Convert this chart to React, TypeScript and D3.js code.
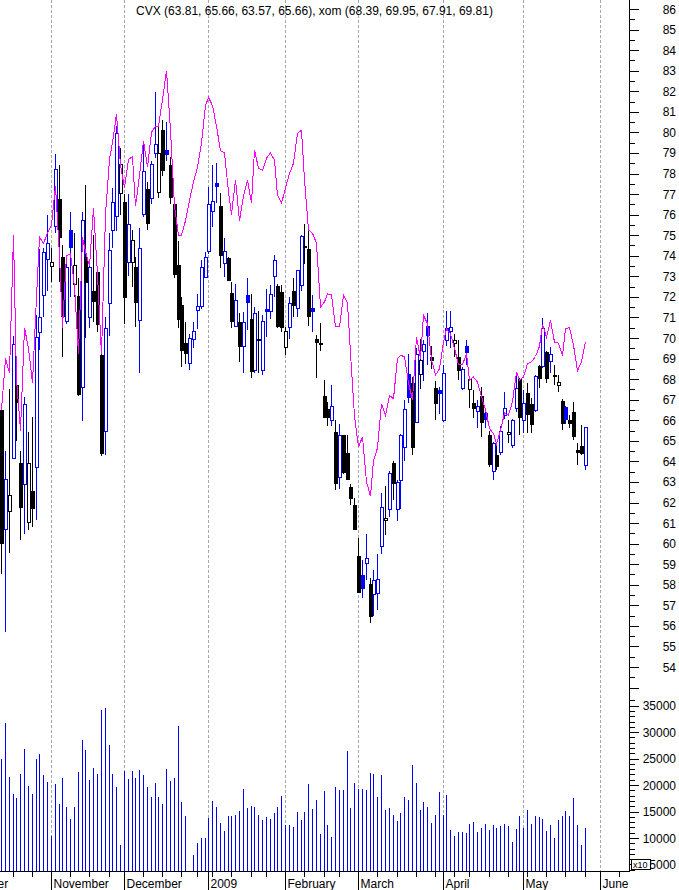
import { useEffect, useRef } from 'react';
import * as d3 from 'd3';

// trading days from Oct 14 2008 (index 0) to May 22 2009 (index 152)
const opens = [
  66.5, 60.7, 61.55, 64.15, 67.7, 63.9, 62.9, 61.05, 62.55, 63.75,
  70.25, 72.1, 73.8, 73.5, 75.45, 76.75, 73.95, 70.8, 75.25, 72.65,
  72.05, 67.65, 73.95, 71.0, 72.3, 73.2, 69.15, 65.5, 71.7, 75.25,
  75.9, 77.05, 76.6, 73.7, 73.7, 73.45, 70.9, 76.0, 77.25, 76.8,
  79.0, 77.1, 80.1, 79.15, 78.4, 76.5, 73.55, 71.6, 69.75, 68.8,
  69.95, 71.35, 71.55, 73.0, 74.2, 76.15, 77.55, 76.4, 73.65, 73.9,
  72.2, 70.6, 70.8, 69.65, 72.1, 70.9, 68.45, 69.9, 68.45, 71.4,
  71.3, 73.0, 72.55, 72.25, 69.55, 70.55, 72.3, 71.45, 72.55, 74.45,
  74.35, 71.45, 69.95, 69.75, 67.2, 66.55, 66.0, 65.45, 63.25, 65.3,
  64.4, 62.75, 61.9, 59.4, 58.45, 59.05, 58.05, 57.55, 57.6, 59.9,
  61.15, 61.7, 63.9, 61.7, 63.1, 64.7, 68.25, 67.8, 65.9, 68.25,
  69.35, 70.6, 69.1, 67.55, 67.45, 66.0, 69.9, 70.35, 69.75, 69.1,
  67.6, 69.6, 67.5, 66.85, 66.45, 67.2, 66.35, 65.3, 63.55, 64.3,
  64.47, 66.25, 65.3, 64.8, 66.58, 68.0, 66.04, 67.34, 66.79, 66.5,
  68.64, 68.6, 69.3, 68.85, 68.2, 67.68, 66.93, 66.66, 66.01, 66.41,
  64.55, 64.75, 63.81,
];
const highs = [
  66.8, 64.5, 67.5, 70.1, 69.1, 64.5, 67.15, 65.45, 66.15, 71.1,
  74.35, 74.4, 76.0, 74.4, 78.95, 78.4, 74.5, 73.85, 76.15, 75.1,
  72.9, 76.15, 77.45, 73.75, 75.0, 73.5, 69.5, 71.0, 75.1, 77.3,
  80.3, 79.25, 77.0, 77.0, 75.25, 73.95, 75.35, 79.6, 77.6, 78.6,
  81.95, 80.35, 80.6, 80.5, 78.8, 76.7, 74.7, 72.0, 70.8, 70.2,
  70.8, 72.15, 73.8, 74.2, 77.35, 78.4, 78.5, 77.05, 74.85, 73.95,
  72.7, 72.65, 71.2, 71.25, 72.9, 72.15, 71.5, 71.3, 71.1, 72.4,
  72.6, 74.05, 72.65, 72.6, 70.55, 72.0, 72.9, 73.3, 75.0, 75.55,
  75.25, 72.1, 70.15, 70.75, 67.95, 66.9, 67.7, 66.0, 65.8, 65.3,
  65.3, 62.9, 62.2, 60.25, 59.2, 60.45, 58.35, 58.7, 59.5, 62.45,
  62.8, 63.55, 64.0, 63.1, 65.35, 67.0, 69.2, 68.1, 69.5, 69.95,
  69.9, 71.2, 69.6, 67.9, 67.6, 68.7, 71.3, 71.3, 70.2, 69.9,
  68.6, 69.9, 68.0, 67.45, 67.0, 67.6, 66.6, 65.5, 64.95, 64.8,
  65.7, 67.35, 66.0, 66.05, 68.2, 68.05, 67.45, 67.8, 67.1, 68.2,
  68.7, 70.95, 69.35, 69.58, 68.68, 68.2, 67.05, 66.7, 66.25, 66.87,
  64.87, 65.77, 65.66,
];
const lows = [
  58.5, 55.7, 59.55, 64.1, 65.0, 60.2, 60.45, 60.65, 60.8, 61.15,
  69.4, 71.0, 72.3, 72.7, 75.1, 72.7, 69.1, 70.7, 72.0, 72.0,
  67.2, 65.95, 70.0, 70.5, 70.8, 70.3, 64.25, 64.3, 70.1, 74.4,
  75.2, 76.0, 70.7, 73.0, 72.5, 70.55, 68.3, 75.9, 75.25, 76.5,
  78.75, 76.8, 77.9, 78.6, 76.5, 72.9, 70.5, 68.6, 68.75, 68.45,
  69.5, 70.45, 71.4, 72.9, 74.1, 75.4, 76.55, 73.4, 72.95, 72.75,
  70.5, 70.55, 68.85, 68.3, 70.4, 68.05, 68.3, 68.3, 68.2, 70.05,
  70.9, 72.0, 70.5, 70.3, 69.15, 69.95, 71.0, 71.0, 72.3, 73.6,
  70.6, 70.3, 68.05, 69.35, 66.1, 65.7, 65.7, 62.6, 62.65, 63.4,
  63.1, 61.9, 60.7, 57.6, 57.35, 58.25, 56.15, 56.5, 56.75, 59.5,
  60.4, 61.3, 62.1, 61.1, 61.7, 64.0, 66.85, 64.3, 65.85, 67.5,
  67.9, 68.7, 68.5, 66.0, 66.3, 65.9, 69.6, 69.5, 69.1, 67.95,
  67.45, 68.7, 66.6, 66.1, 65.6, 65.2, 65.6, 63.75, 63.1, 63.6,
  64.3, 66.05, 64.87, 64.65, 66.4, 65.3, 65.4, 65.4, 65.4, 66.4,
  67.55, 68.55, 67.82, 68.3, 67.71, 67.39, 65.55, 65.8, 65.6, 65.04,
  63.82, 64.31, 63.57,
];
const closes = [
  60.05, 63.15, 62.35, 69.7, 66.85, 61.75, 66.8, 63.9, 61.7, 70.05,
  71.0, 74.2, 74.6, 73.7, 78.2, 74.9, 71.1, 73.45, 74.4, 73.55,
  67.3, 75.75, 72.75, 73.45, 71.8, 70.65, 64.4, 70.5, 74.3, 76.6,
  79.95, 78.45, 72.0, 75.55, 74.75, 71.75, 74.4, 78.1, 75.6, 78.45,
  79.45, 79.0, 78.15, 78.95, 76.85, 73.1, 70.9, 69.4, 69.25, 70.0,
  70.35, 71.55, 73.45, 73.95, 76.5, 76.65, 77.4, 74.0, 74.25, 72.85,
  70.85, 71.85, 69.65, 70.8, 71.75, 68.35, 71.2, 69.95, 70.85, 71.3,
  72.15, 73.8, 70.6, 70.55, 70.35, 71.7, 71.6, 73.3, 74.95, 74.4,
  71.1, 71.3, 69.8, 69.7, 66.2, 66.15, 66.7, 62.95, 65.3, 63.5,
  63.15, 62.2, 60.75, 57.65, 57.8, 59.3, 56.5, 58.25, 58.3, 61.8,
  61.25, 63.45, 62.95, 63.0, 65.3, 66.55, 67.15, 64.7, 69.2, 68.95,
  69.7, 70.15, 68.95, 66.8, 67.3, 68.3, 70.5, 70.55, 69.9, 68.45,
  68.5, 69.3, 68.0, 66.6, 66.68, 65.95, 66.05, 63.9, 64.9, 63.75,
  65.5, 66.58, 65.42, 66.0, 67.55, 66.14, 66.85, 66.3, 65.82, 68.15,
  68.04, 70.47, 68.04, 69.2, 68.15, 67.84, 65.88, 66.09, 65.88, 65.23,
  64.47, 64.39, 65.66,
];
const xomCloses = [
  66.5, 69.0, 68.3, 75.0, 68.0, 65.5, 70.5, 69.5, 67.8, 72.0,
  74.9, 74.6, 75.1, 75.5, 77.4, 74.0, 70.5, 74.0, 74.1, 72.5,
  69.2, 74.9, 74.2, 73.5, 76.3, 73.1, 69.2, 76.0, 78.7, 79.5,
  80.9, 78.4, 77.3, 78.7, 78.8, 76.4, 77.9, 79.6, 78.3, 80.0,
  80.3, 80.3, 81.6, 83.0, 80.1, 76.4, 75.0, 75.0, 75.7, 76.7,
  77.6, 78.3, 79.5, 81.3, 81.7, 81.3, 80.3, 79.1, 79.0, 77.1,
  76.0, 77.7, 75.7, 76.9, 77.7, 76.55, 79.15, 78.25, 78.15, 78.75,
  79.0, 78.65, 76.95, 76.55, 77.3, 78.0, 78.5, 79.95, 80.1, 77.7,
  75.25, 75.1, 74.6, 71.5, 71.75, 72.15, 72.1, 70.55, 70.55, 72.1,
  71.7, 69.25, 66.2, 64.7, 65.2, 63.0, 62.3, 64.05, 64.65, 66.8,
  66.25, 67.2, 67.05, 69.0, 69.15, 69.1, 67.8, 67.0, 70.05, 69.0,
  71.1, 70.7, 68.95, 68.2, 68.5, 69.8, 70.45, 70.2, 69.5, 68.7,
  68.7, 69.25, 67.95, 68.1, 67.85, 67.15, 66.5, 65.6, 65.35, 64.85,
  65.5, 66.35, 66.25, 66.9, 68.35, 67.95, 68.1, 68.75, 68.85, 69.1,
  69.6, 70.65, 70.05, 70.85, 69.8, 69.75, 69.15, 70.45, 70.5, 69.65,
  68.4, 68.85, 69.81,
];
const volumes = [
  24900, 31800, 21600, 18300, 17600, 22100, 26900, 19800, 18300, 25000,
  25900, 21900, 20600, 10400, 20200, 16400, 21300, 15900, 13600, 15900,
  22500, 28500, 26600, 21000, 23200, 22100, 34100, 34600, 27600, 22100,
  19700, 8700, 22700, 21100, 22700, 21300, 22800, 21900, 19700, 17800,
  20400, 17800, 16400, 23000, 20800, 21300, 31200, 16800, 14200, 3600,
  6800, 9100, 10000, 10000, 13800, 17000, 15900, 12800, 11300, 14200,
  14200, 14300, 15100, 19300, 15700, 16000, 15900, 14300, 13400, 14000,
  13600, 14700, 15900, 17900, 12500, 12500, 12100, 14900, 13400, 14900,
  20200, 15500, 17200, 10800, 18900, 12500, 10200, 19600, 19100, 19100,
  26400, 15700, 20400, 19300, 19300, 19100, 22300, 22100, 17700, 21900,
  15300, 15700, 14300, 13200, 14700, 17700, 17200, 23800, 20400, 15300,
  16800, 15900, 12800, 14300, 18700, 14300, 18100, 11500, 10400, 11100,
  11100, 10900, 12600, 13000, 11100, 11900, 12600, 11500, 12500, 11900,
  12300, 12600, 12300, 9200, 11700, 14200, 11900, 15300, 12600, 14200,
  14000, 13600, 11300, 12500, 10000, 13400, 14200, 15100, 14200, 17600,
  12500, 8700, 11900,
];

const monthLabels = ['October', 'November', 'December', '2009', 'February', 'March', 'April', 'May', 'June'];
const monthStartIdx = [-9, 14, 33, 55, 75, 94, 116, 137, 157];
const weekStartIdx = [4, 9, 19, 24, 29, 38, 43, 48, 52, 56, 61, 66, 70, 80, 85, 89, 99, 104, 109, 114, 119, 123, 128, 133, 138, 143, 148, 153, 162];
const volumeLabels = [5000, 10000, 15000, 20000, 25000, 30000, 35000];
const title = 'CVX (63.81, 65.66, 63.57, 65.66), xom (68.39, 69.95, 67.91, 69.81)';

export default function App() {
  const svgRef = useRef<SVGSVGElement>(null);

  useEffect(() => {
    if (!svgRef.current) return;
    const svg = d3.select(svgRef.current);
    svg.selectAll('*').remove();

    const W = 679;
    const H = 890;
    const axisX = 629.5;
    const baseY = 871.5;
    const font = '"Liberation Sans", Arial, sans-serif';

    const x = d3.scaleLinear().domain([0, 152]).range([1.5, 585.2]);
    const y = d3.scaleLinear().domain([54, 86]).range([667, 9]);
    const yVol = d3.scaleLinear().domain([10000, 35000]).range([838, 705.7]);
    const cx = (i: number) => Math.floor(x(i)) + 0.5;
    const snap = (v: number) => Math.round(v) + 0.5;

    svg.append('rect').attr('width', W).attr('height', H).attr('fill', '#ffffff');

    const months = monthLabels.map((label, k) => ({ label, gx: cx(monthStartIdx[k] - 1) }));

    // 월 구분 점선
    svg.append('g')
      .selectAll('line')
      .data(months)
      .enter()
      .append('line')
      .attr('x1', (d) => d.gx)
      .attr('x2', (d) => d.gx)
      .attr('y1', 0)
      .attr('y2', baseY)
      .attr('stroke', '#a8a8a8')
      .attr('stroke-dasharray', '3,2')
      .attr('shape-rendering', 'crispEdges');

    // 거래량
    svg.append('g')
      .selectAll('line')
      .data(volumes)
      .enter()
      .append('line')
      .attr('x1', (_d, i) => cx(i))
      .attr('x2', (_d, i) => cx(i))
      .attr('y1', baseY)
      .attr('y2', (d) => Math.min(baseY, Math.round(yVol(d))))
      .attr('stroke', '#0000ff')
      .attr('shape-rendering', 'crispEdges');

    // 캔들: 색은 전일 종가 대비, 속은 시가 대비
    const candles = closes.map((c, i) => {
      const prev = i > 0 ? closes[i - 1] : Infinity;
      return {
        i,
        o: opens[i],
        h: highs[i],
        l: lows[i],
        c,
        color: c >= prev ? '#0000ff' : '#000000',
        hollow: c >= opens[i],
      };
    });

    const cg = svg.append('g').attr('shape-rendering', 'crispEdges');
    cg.selectAll('line')
      .data(candles)
      .enter()
      .append('line')
      .attr('x1', (d) => cx(d.i))
      .attr('x2', (d) => cx(d.i))
      .attr('y1', (d) => Math.round(y(d.h)))
      .attr('y2', (d) => Math.round(y(d.l)))
      .attr('stroke', (d) => d.color);

    // 양봉(속 빈)
    cg.selectAll('.hollow')
      .data(candles.filter((d) => d.hollow))
      .enter()
      .append('rect')
      .attr('x', (d) => cx(d.i) - 1)
      .attr('width', 3)
      .attr('y', (d) => snap(y(d.c)))
      .attr('height', (d) => Math.max(0, Math.round(y(d.o) - y(d.c))))
      .attr('fill', '#ffffff')
      .attr('stroke', (d) => d.color);

    // 음봉(채움)
    cg.selectAll('.filled')
      .data(candles.filter((d) => !d.hollow))
      .enter()
      .append('rect')
      .attr('x', (d) => cx(d.i) - 1.5)
      .attr('width', 4)
      .attr('y', (d) => Math.round(y(d.o)))
      .attr('height', (d) => Math.max(1, Math.round(y(d.c) - y(d.o)) + 1))
      .attr('fill', (d) => d.color);

    // xom 라인
    const line = d3
      .line<number>()
      .x((_d, i) => cx(i))
      .y((d) => y(d));
    svg.append('path')
      .datum(xomCloses)
      .attr('fill', 'none')
      .attr('stroke', '#ff00ff')
      .attr('stroke-width', 1)
      .attr('shape-rendering', 'crispEdges')
      .attr('d', line);

    // 축 선
    const axis = svg.append('g').attr('shape-rendering', 'crispEdges').attr('stroke', '#000');
    axis.append('line').attr('x1', axisX).attr('x2', axisX).attr('y1', 0).attr('y2', baseY);
    axis.append('line').attr('x1', 0).attr('x2', axisX).attr('y1', baseY).attr('y2', baseY);

    // 가격 눈금
    const priceTicks = d3.range(53, 86.51, 0.5);
    axis.selectAll('.pt')
      .data(priceTicks)
      .enter()
      .append('line')
      .attr('x1', axisX)
      .attr('x2', (d) => axisX + (d % 1 === 0 ? 9 : 5))
      .attr('y1', (d) => snap(y(d)))
      .attr('y2', (d) => snap(y(d)));

    svg.append('g')
      .selectAll('text')
      .data(d3.range(54, 87))
      .enter()
      .append('text')
      .attr('x', 676)
      .attr('y', (d) => y(d) + 4.5)
      .attr('text-anchor', 'end')
      .style('font-family', font)
      .style('font-size', '12px')
      .attr('fill', '#000')
      .text((d) => d);

    // 거래량 눈금
    const volTicks = d3.range(4000, 36001, 1000);
    axis.selectAll('.vt')
      .data(volTicks)
      .enter()
      .append('line')
      .attr('x1', axisX)
      .attr('x2', (d) => axisX + (d % 5000 === 0 ? 9 : 5))
      .attr('y1', (d) => snap(yVol(d)))
      .attr('y2', (d) => snap(yVol(d)));

    svg.append('g')
      .selectAll('text')
      .data(volumeLabels)
      .enter()
      .append('text')
      .attr('x', 676)
      .attr('y', (d) => yVol(d) + 4.5)
      .attr('text-anchor', 'end')
      .style('font-family', font)
      .style('font-size', '12px')
      .attr('fill', '#000')
      .text((d) => d);

    // x10 표시
    svg.append('rect')
      .attr('x', 631.5)
      .attr('y', 859.5)
      .attr('width', 19)
      .attr('height', 10)
      .attr('fill', '#fff')
      .attr('stroke', '#000')
      .attr('shape-rendering', 'crispEdges');
    svg.append('text')
      .attr('x', 633)
      .attr('y', 868)
      .style('font-family', font)
      .style('font-size', '9px')
      .text('x10');

    // 하단 축: 월 구분선, 주 눈금, 월 레이블
    axis.selectAll('.ms')
      .data(months)
      .enter()
      .append('line')
      .attr('x1', (d) => d.gx)
      .attr('x2', (d) => d.gx)
      .attr('y1', baseY)
      .attr('y2', H);

    axis.selectAll('.wk')
      .data(weekStartIdx)
      .enter()
      .append('line')
      .attr('x1', (d) => cx(d - 1))
      .attr('x2', (d) => cx(d - 1))
      .attr('y1', baseY)
      .attr('y2', baseY + 5);

    svg.append('g')
      .selectAll('text')
      .data(months)
      .enter()
      .append('text')
      .attr('x', (d) => d.gx + 2)
      .attr('y', 888)
      .style('font-family', font)
      .style('font-size', '12px')
      .attr('fill', '#000')
      .text((d) => d.label);

    // 제목
    svg.append('text')
      .attr('x', 314.5)
      .attr('y', 15)
      .attr('text-anchor', 'middle')
      .style('font-family', font)
      .style('font-size', '12px')
      .attr('fill', '#000')
      .text(title);
  }, []);

  return (
    <svg
      ref={svgRef}
      width={679}
      height={890}
      style={{ position: 'absolute', left: 0, top: 0, display: 'block' }}
    ></svg>
  );
}
